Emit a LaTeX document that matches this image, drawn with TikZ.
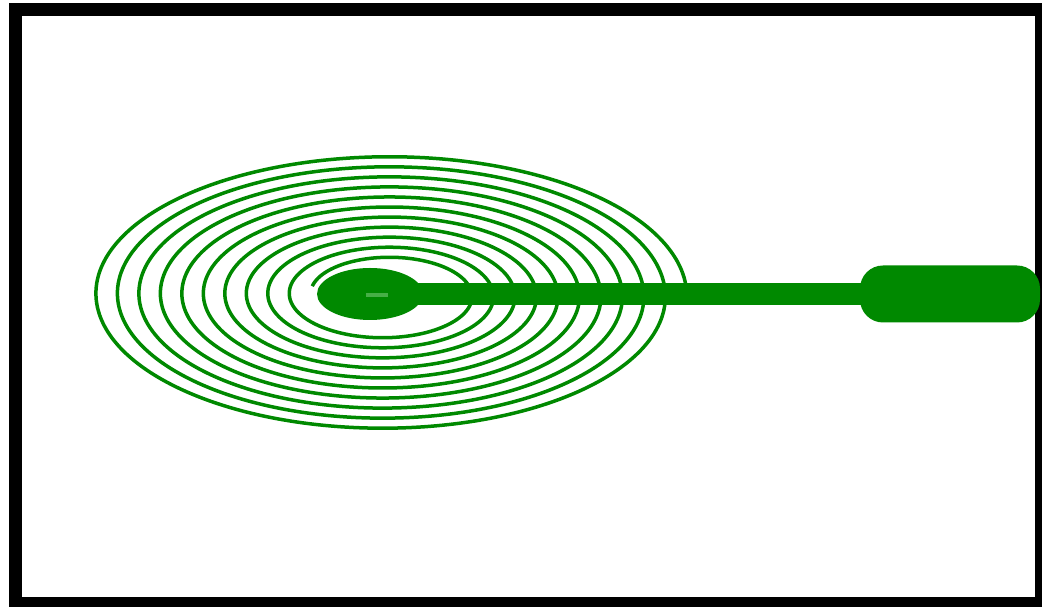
\documentclass[tikz,border=0pt]{standalone}
\usepackage{tikz}
\usetikzlibrary{shapes.geometric}
\definecolor{coilgreen}{RGB}{0,137,0}
\definecolor{coillight}{RGB}{70,175,70}
\begin{document}
\begin{tikzpicture}[
    x=0.1mm, y=-0.1mm,
    frame/.style={draw=black, line width=1.3mm},
    coil/.style={draw=coilgreen, line width=0.35mm, line join=round},
    blob/.style={ellipse, fill=coilgreen, inner sep=0pt, outer sep=0pt,
                 minimum width=10.6mm, minimum height=5.2mm},
    pad/.style={fill=coilgreen, rounded corners=2.3mm, inner sep=0pt,
                outer sep=0pt, minimum width=18mm, minimum height=5.7mm},
    trace/.style={draw=coilgreen, line width=2.2mm}
]
\useasboundingbox (0,0) rectangle (1042,607);
\draw[frame] (15,9.5) rectangle (1041.5,603.5);
\draw[coil] plot[domain={7*pi+0.25}:{28*pi}, samples=1100, smooth, variable=\t]
    ({386+3.42*\t*cos(\t r)}, {295+1.6*\t*sin(\t r)});
\node[blob] (spoon) at (370,294) {};
\node[pad] (tail) at (950,294) {};
\draw[trace] (spoon.center) -- (tail.center);
\draw[coillight, line width=0.4mm] (366,295) -- (388,295);
\end{tikzpicture}
\end{document}
